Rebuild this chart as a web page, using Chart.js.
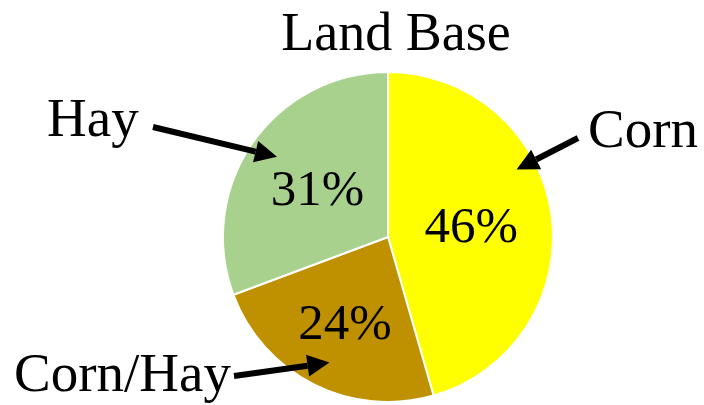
<!DOCTYPE html>
<html>
<head>
  <title>Land Base</title>
  <script src="https://cdn.jsdelivr.net/npm/chart.js@4.4.1/dist/chart.umd.min.js"></script>
  <style>
    body { margin: 0; background: #fff; }
  </style>
</head>
<body>
  <canvas id="pie" width="704" height="405"></canvas>

  <script>
    // datos del grafico
    const titleText = 'Land Base';
    const labels = ['Corn', 'Corn/Hay', 'Hay'];
    const values = [46, 24, 31];
    const colors = ['#FFFF00', '#BF9000', '#A9D18E'];

    // donde va cada etiqueta externa y su flecha (layout)
    const labelPos = [
      { x: 588, y: 147, tailX: 578, tailY: 138, along: 0.38, rad: 0.88 },
      { x: 14,  y: 391, tailX: 234, tailY: 376, along: 0.48, rad: 0.84 },
      { x: 47,  y: 136, tailX: 153, tailY: 127, along: 0.51, rad: 0.83 }
    ];
    const pctRadius = [0.51, 0.58, 0.52];

    const fontFam = '"Liberation Serif", "Times New Roman", serif';

    function drawArrow(ctx, x1, y1, x2, y2) {
      const ang = Math.atan2(y2 - y1, x2 - x1);
      const headLen = 22, headW = 11;
      const bx = x2 - headLen * Math.cos(ang);
      const by = y2 - headLen * Math.sin(ang);
      ctx.save();
      ctx.strokeStyle = '#000';
      ctx.fillStyle = '#000';
      ctx.lineWidth = 6;
      ctx.beginPath();
      ctx.moveTo(x1, y1);
      ctx.lineTo(bx, by);
      ctx.stroke();
      ctx.beginPath();
      ctx.moveTo(x2, y2);
      ctx.lineTo(bx + headW * Math.sin(ang), by - headW * Math.cos(ang));
      ctx.lineTo(bx - headW * Math.sin(ang), by + headW * Math.cos(ang));
      ctx.closePath();
      ctx.fill();
      ctx.restore();
    }

    const annotations = {
      id: 'annotations',
      afterDraw(chart) {
        const ctx = chart.ctx;
        const meta = chart.getDatasetMeta(0);

        ctx.save();
        ctx.fillStyle = '#000';

        // titulo
        ctx.font = '54px ' + fontFam;
        ctx.textAlign = 'center';
        ctx.textBaseline = 'alphabetic';
        ctx.fillText(titleText, 396, 50);

        meta.data.forEach((arc, i) => {
          const p = arc.getProps(['x', 'y', 'startAngle', 'endAngle', 'outerRadius'], true);
          const mid = (p.startAngle + p.endAngle) / 2;

          // porcentaje
          const r = p.outerRadius * pctRadius[i];
          ctx.font = '51px ' + fontFam;
          ctx.textAlign = 'center';
          ctx.fillText(values[i] + '%', p.x + r * Math.cos(mid), p.y + r * Math.sin(mid) + 17);

          // etiqueta externa + flecha
          const lp = labelPos[i];
          ctx.font = '55px ' + fontFam;
          ctx.textAlign = 'left';
          ctx.fillText(labels[i], lp.x, lp.y);
          const a = p.startAngle + (p.endAngle - p.startAngle) * lp.along;
          const tr = p.outerRadius * lp.rad;
          drawArrow(ctx, lp.tailX, lp.tailY, p.x + tr * Math.cos(a), p.y + tr * Math.sin(a));
        });
        ctx.restore();
      }
    };

    new Chart(document.getElementById('pie'), {
      type: 'pie',
      data: {
        labels: labels,
        datasets: [{
          data: values,
          backgroundColor: colors,
          borderColor: '#FFFFFF',
          borderWidth: 2
        }]
      },
      options: {
        responsive: false,
        animation: false,
        layout: { padding: { top: 71, bottom: 2, left: 222, right: 150 } },
        plugins: {
          legend: { display: false },
          tooltip: { enabled: false },
          title: { display: false }
        }
      },
      plugins: [annotations]
    });
  </script>
</body>
</html>
